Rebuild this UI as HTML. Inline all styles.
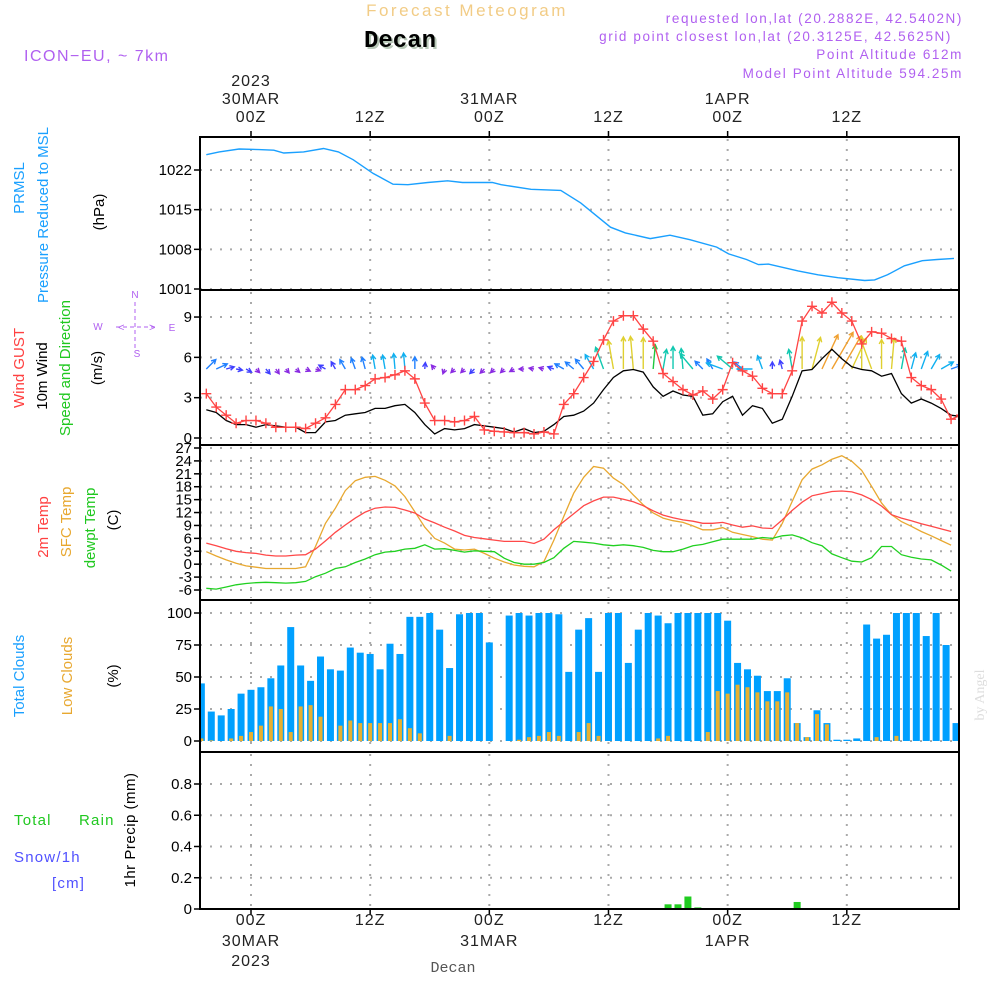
<!DOCTYPE html>
<html><head><meta charset="utf-8"><title>Forecast Meteogram - Decan</title>
<style>
html,body{margin:0;padding:0;background:#fff;}
svg{display:block;font-family:"Liberation Sans",sans-serif;}
.tk{font-size:15px;fill:#000;}
.ax{font-size:16px;fill:#222;letter-spacing:1px;}
</style></head>
<body>
<svg id="chart" width="1000" height="1000" viewBox="0 0 1000 1000" xmlns="http://www.w3.org/2000/svg">
<text x="467" y="16" text-anchor="middle" font-size="17" fill="#f2cc86" letter-spacing="2.5">Forecast Meteogram</text>
<text x="402" y="49" text-anchor="middle" font-size="24" font-weight="bold" font-family="Liberation Mono, monospace" fill="#b8c8b8">Decan</text>
<text x="400" y="47" text-anchor="middle" font-size="24" font-weight="bold" font-family="Liberation Mono, monospace" fill="#000">Decan</text>
<text x="24" y="61" font-size="16" fill="#b060f0" letter-spacing="1.5">ICON−EU, ~ 7km</text>
<g font-size="13.5" fill="#b060f0" text-anchor="end" letter-spacing="1.6">
<text x="963" y="23">requested lon,lat (20.2882E, 42.5402N)</text>
<text x="952" y="41">grid point closest lon,lat (20.3125E, 42.5625N)</text>
<text x="963" y="59">Point Altitude 612m</text>
<text x="963" y="78">Model Point Altitude 594.25m</text>
</g>
<g id="topaxis" class="ax" text-anchor="middle"></g>
<g id="botaxis" class="ax" text-anchor="middle"></g>
<text x="453" y="972" text-anchor="middle" font-size="15" font-family="Liberation Mono, monospace" fill="#555">Decan</text>
<text transform="translate(984,695) rotate(-90)" text-anchor="middle" font-size="14" font-family="Liberation Serif, serif" fill="#ddd">by Angel</text>

<g font-size="15">
<text transform="translate(24,188) rotate(-90)" text-anchor="middle" fill="#1aa0ff">PRMSL</text>
<text transform="translate(48,215) rotate(-90)" text-anchor="middle" fill="#1aa0ff">Pressure Reduced to MSL</text>
<text transform="translate(104,212) rotate(-90)" text-anchor="middle" fill="#000">(hPa)</text>
</g>
<g font-size="15">
<text transform="translate(24,368) rotate(-90)" text-anchor="middle" fill="#ff4040">Wind GUST</text>
<text transform="translate(47,376) rotate(-90)" text-anchor="middle" fill="#000">10m Wind</text>
<text transform="translate(70,368) rotate(-90)" text-anchor="middle" fill="#20c820">Speed and Direction</text>
<text transform="translate(102,368) rotate(-90)" text-anchor="middle" fill="#000">(m/s)</text>
</g>
<g fill="#b060f0" stroke="#b060f0" font-size="10">
<text x="135" y="298" text-anchor="middle" stroke="none">N</text>
<text x="98" y="330" text-anchor="middle" stroke="none">W</text>
<text x="172" y="331" text-anchor="middle" stroke="none">E</text>
<text x="137" y="357" text-anchor="middle" stroke="none">S</text>
<line x1="116" y1="327" x2="155" y2="327" stroke-dasharray="4 3"/>
<line x1="135" y1="302" x2="135" y2="350" stroke-dasharray="4 3"/>
<text x="118" y="331" stroke="none" font-size="11">&lt;</text>
<text x="149" y="331" stroke="none" font-size="11">&gt;</text>
</g>
<g font-size="15">
<text transform="translate(48,527) rotate(-90)" text-anchor="middle" fill="#ff4040">2m Temp</text>
<text transform="translate(71,522) rotate(-90)" text-anchor="middle" fill="#e8a830">SFC Temp</text>
<text transform="translate(95,528) rotate(-90)" text-anchor="middle" fill="#20c820">dewpt Temp</text>
<text transform="translate(118,520) rotate(-90)" text-anchor="middle" fill="#000">(C)</text>
</g>
<g font-size="15">
<text transform="translate(24,676) rotate(-90)" text-anchor="middle" fill="#1aa0ff">Total Clouds</text>
<text transform="translate(72,676) rotate(-90)" text-anchor="middle" fill="#e8a830">Low Clouds</text>
<text transform="translate(118,676) rotate(-90)" text-anchor="middle" fill="#000">(%)</text>
</g>
<g font-size="15" letter-spacing="1.2">
<text x="14" y="825" fill="#20c820">Total</text>
<text x="79" y="825" fill="#20c820">Rain</text>
<text x="14" y="862" fill="#5050ff">Snow/1h</text>
<text x="52" y="888" fill="#5050ff">[cm]</text>
<text transform="translate(135,830) rotate(-90)" text-anchor="middle" fill="#000" letter-spacing="0.5">1hr Precip (mm)</text>
</g>

<g id="plots"></g>
</svg>
<script>
const pressHours = [-4.5,-3.2,-1.2,0.8,2.3,3.3,5.3,7.3,8.8,10.3,12.3,14.3,15.8,17.8,19.8,21.3,24.3,25.2,28.2,31.2,33.2,36.2,37.7,40.2,42.2,44.2,46.9,48.1,49.9,51.1,52.1,55.1,57.1,59.1,61.8,62.8,64.1,65.8,67.6,69.1,70.8];
const pressValues = [1024.7,1025.2,1025.7,1025.6,1025.5,1025.0,1025.2,1025.8,1025.2,1023.8,1021.4,1019.5,1019.4,1019.8,1020.1,1019.8,1019.8,1019.4,1018.6,1018.4,1016.2,1011.9,1010.9,1009.9,1010.5,1009.7,1008.4,1007.2,1006.2,1005.3,1005.4,1004.2,1003.5,1003.0,1002.5,1002.6,1003.5,1005.1,1006.0,1006.2,1006.4];
const pressTicks = [1022,1015,1008,1001];

const lineStart = -4.5;
const gustValues = [3.3,2.3,1.7,1.1,1.3,1.3,1.1,0.8,0.8,0.8,0.7,1.1,1.5,2.5,3.6,3.6,3.9,4.4,4.5,4.7,5.0,4.4,2.6,1.3,1.3,1.2,1.3,1.6,0.6,0.5,0.45,0.4,0.4,0.3,0.45,0.3,2.5,3.3,4.5,5.7,7.3,8.7,9.1,9.1,8.1,7.2,4.8,4.2,3.6,3.2,3.5,2.9,3.6,5.6,5.0,4.6,3.7,3.3,3.3,5.0,8.7,9.8,9.3,10.1,9.3,8.7,7.0,7.9,7.8,7.4,7.2,4.5,3.9,3.6,2.9,1.4,1.7];
const windValues = [2.1,1.9,1.3,1.0,1.0,0.8,1.0,0.9,0.8,0.8,0.4,0.4,1.2,1.3,1.7,1.8,1.9,2.2,2.2,2.4,2.5,1.9,1.0,0.3,0.7,0.6,0.7,1.0,0.9,0.8,0.7,0.45,0.7,0.4,0.5,1.0,1.6,1.7,2.0,2.6,3.6,4.5,5.0,5.1,4.9,3.8,3.1,3.5,3.2,3.1,1.7,1.8,2.7,3.1,1.7,2.4,2.2,1.1,1.4,3.1,5.0,5.1,5.9,6.6,5.9,5.3,5.1,5.0,4.6,4.8,3.3,2.6,2.9,2.6,2.2,1.7,1.6];
const windDirs = [45,65,75,100,120,135,140,145,140,130,115,110,300,330,330,340,345,350,350,355,355,0,5,320,200,225,225,225,225,225,225,240,270,280,285,290,300,310,320,330,340,350,0,355,0,5,10,0,355,320,315,330,290,310,310,270,340,0,345,350,0,15,25,30,30,25,0,340,0,5,10,15,20,30,60,70,75];
const windTicks = [0,3,6,9];

const t2mValues = [4.9,4.3,3.6,3.0,2.7,2.5,2.1,1.9,1.9,2.1,2.2,3.5,5.4,7.4,9.1,10.7,12.1,13.0,13.3,13.2,12.6,11.9,10.5,9.6,8.6,7.7,6.7,6.2,5.9,5.6,5.3,5.3,5.3,4.8,5.8,8.0,9.9,11.7,13.6,14.7,15.6,15.6,15.1,14.5,13.6,12.4,11.4,10.8,10.3,10.0,9.5,9.5,9.7,9.1,8.6,8.9,8.4,8.3,10.3,12.5,14.4,15.9,16.4,16.9,17.0,16.8,16.1,15.0,13.5,11.5,10.7,10.1,9.4,8.8,8.2,7.6];
const sfcValues = [2.9,1.9,1.0,0.2,-0.4,-0.7,-1.0,-1.0,-1.0,-1.0,-0.6,4.1,9.5,13.0,17.1,19.4,20.2,20.4,19.5,18.2,15.7,12.2,8.6,6.0,4.9,3.5,3.3,3.5,2.5,1.4,0.5,-0.2,-0.5,-0.6,0.6,5.6,11.1,16.5,20.2,22.7,22.3,20.0,18.5,16.1,13.8,11.9,10.7,10.1,9.7,8.9,8.0,8.0,8.5,7.4,6.9,6.4,5.8,5.6,9.5,14.6,19.6,22.1,23.1,24.4,25.2,23.9,21.8,18.1,14.2,11.5,9.9,8.8,7.6,6.6,5.5,4.4];
const dewValues = [-5.6,-5.8,-5.3,-4.8,-4.5,-4.3,-4.2,-4.3,-4.4,-4.3,-4.0,-2.9,-2.1,-1.0,-0.6,0.4,1.2,2.2,2.8,3.0,3.5,3.7,4.5,3.5,3.6,3.2,2.8,3.1,3.0,2.9,1.4,0.4,0.0,0.0,0.4,1.5,3.7,5.3,5.1,4.9,4.5,4.3,4.5,4.3,3.9,3.2,2.9,2.9,3.5,4.3,4.6,5.2,5.8,5.8,5.8,5.8,6.2,6.0,6.6,6.8,6.1,5.0,4.3,2.4,1.5,0.7,0.5,1.5,4.1,4.1,2.2,1.6,1.2,1.0,-0.2,-1.6];
const tempTicks = [27,24,21,18,15,12,9,6,3,0,-3,-6];

const barStart = -5;
const totalCloud = [45,23,20,25,37,40,42,49,59,89,59,47,66,56,55,73,69,68,56,76,68,97,97,100,87,57,99,100,100,77,0,98,100,98,100,100,99,54,87,96,54,100,100,61,87,100,98,92,100,100,100,100,100,94,61,56,51,39,39,49,14,3,24,14,1,1,2,91,80,83,100,100,100,82,100,75,14];
const lowCloud = [2,0.5,0,2,4,7,12,27,25,7,27,28,19,0,12,16,14,14,14,14,17,10,6,0,0,4,0,0,0,0,0,0,1,3,4,7,4,0,7,14,4,0,0,0,0,0,2,4,0,0,0,7,39,37,44,42,38,31,31,38,14,3,21,13,0,0,0,0,3,0,4,0,0,0,0,0,0];
const cloudTicks = [0,25,50,75,100];

const precipHours = [42,43,44,45,55,56];
const precipValues = [0.03,0.03,0.08,0.01,0.045,0.004];
const precipTicks = [0,0.2,0.4,0.6,0.8];

const gridHours = [0,12,24,36,48,60];
const topLabels = [["2023","30MAR","00Z"],["","","12Z"],["","31MAR","00Z"],["","","12Z"],["","1APR","00Z"],["","","12Z"]];
const botLabels = [["00Z","30MAR","2023"],["12Z","",""],["00Z","31MAR",""],["12Z","",""],["00Z","1APR",""],["12Z","",""]];

const X0 = 200, X1 = 959;
const xs = t => 251 + t * 9.93;
const yP = v => 170 + (1022 - v) * 5.667;
const yW = v => 438 - v * 13.44;
const yT = v => 590 - (v + 6) * 4.303;
const yC = v => 741 - v * 1.28;
const yR = v => 909 - v * 156.25;
const panels = [
  {top:137, bot:290, ticks:pressTicks, y:yP, fmt:v=>String(v)},
  {top:290, bot:445, ticks:windTicks, y:yW, fmt:v=>String(v)},
  {top:445, bot:600, ticks:tempTicks, y:yT, fmt:v=>String(v)},
  {top:600, bot:752, ticks:cloudTicks, y:yC, fmt:v=>String(v)},
  {top:752, bot:909, ticks:precipTicks, y:yR, fmt:v=>v===0?"0":v.toFixed(1)}
];
const NS = "http://www.w3.org/2000/svg";
const root = document.getElementById("plots");
function mk(tag, attrs, parent) {
  const e = document.createElementNS(NS, tag);
  for (const k in attrs) e.setAttribute(k, attrs[k]);
  (parent || root).appendChild(e);
  return e;
}
function pathFrom(times, vals, ys) {
  return vals.map((v, i) => (i ? "L" : "M") + xs(times(i)).toFixed(1) + "," + ys(v).toFixed(1)).join("");
}

const defs = mk("defs", {});
const cp = mk("clipPath", {id:"clip"}, defs);
mk("rect", {x:X0, y:130, width:X1 - X0, height:790}, cp);

panels.forEach((p, pi) => {
  const g = mk("g", {});
  
  
  p.ticks.forEach(v => {
    const yy = p.y(v);
    const gl = mk("line", {x1:X0, x2:X1, y1:yy, y2:yy, stroke:"#aaa", "stroke-width":2, "stroke-dasharray":"2 8"}, g);
    
    
    const tm = mk("line", {x1:X0 - 6, x2:X0, y1:yy, y2:yy, stroke:"#000", "stroke-width":1.5}, g);
    
    
    const tl = mk("text", {x:192, y:yy + 5, "text-anchor":"end", class:"tk", "font-size": pi === 2 ? 14 : 15}, g);
    tl.textContent = p.fmt(v);
    
    
  });
  gridHours.forEach(h => {
    const xx = xs(h);
    const vl = mk("line", {x1:xx, x2:xx, y1:p.top + 2, y2:p.bot - 2, stroke:"#aaa", "stroke-width":2, "stroke-dasharray":"2 8"}, g);
    
    
  });
});

const pp = mk("path", {d:pathFrom(i => pressHours[i], pressValues, yP), fill:"none", stroke:"#1aa0ff", "stroke-width":1.4, "clip-path":"url(#clip)"});



function arrowColor(s) {
  if (s < 1.0) return "#8a2be2";
  if (s < 1.5) return "#4040ff";
  if (s < 2.2) return "#2080ff";
  if (s < 3.0) return "#10b0f0";
  if (s < 3.8) return "#10c8b0";
  if (s < 4.5) return "#20c840";
  if (s < 5.4) return "#e0d030";
  return "#f0a030";
}
const ag = mk("g", {"clip-path":"url(#clip)"});


windDirs.forEach((d, i) => {
  const s = windValues[i];
  const L = Math.max(5, s * 6.4);
  const a = d * Math.PI / 180;
  const bx = xs(lineStart + i), by = 369;
  const tx = bx + Math.sin(a) * L, ty = by - Math.cos(a) * L;
  const c = arrowColor(s);
  const h = 5, ang = Math.atan2(ty - by, tx - bx);
  const d1 = `M${bx},${by}L${tx},${ty}M${tx - h * Math.cos(ang - 0.5)},${ty - h * Math.sin(ang - 0.5)}L${tx},${ty}L${tx - h * Math.cos(ang + 0.5)},${ty - h * Math.sin(ang + 0.5)}`;
  const ar = mk("path", {d:d1, stroke:c, "stroke-width":1.4, fill:"none"}, ag);
  
  
});

const wl = mk("path", {d:pathFrom(i => lineStart + i, windValues, yW), fill:"none", stroke:"#000", "stroke-width":1.3, "clip-path":"url(#clip)"});


const gustLine = mk("path", {d:pathFrom(i => lineStart + i, gustValues, yW), fill:"none", stroke:"#ff4444", "stroke-width":1.3, "clip-path":"url(#clip)"});


const gm = mk("g", {stroke:"#ff4444", "stroke-width":1.4, "clip-path":"url(#clip)"});


gustValues.forEach((v, i) => {
  const cx = xs(lineStart + i), cy = yW(v);
  const m = mk("path", {d:`M${cx - 5},${cy}L${cx + 5},${cy}M${cx},${cy - 5}L${cx},${cy + 5}`}, gm);
  
  
});

const sl = mk("path", {d:pathFrom(i => lineStart + i, sfcValues, yT), fill:"none", stroke:"#e8a830", "stroke-width":1.3, "clip-path":"url(#clip)"});


const tl2 = mk("path", {d:pathFrom(i => lineStart + i, t2mValues, yT), fill:"none", stroke:"#ff4848", "stroke-width":1.3, "clip-path":"url(#clip)"});


const dl = mk("path", {d:pathFrom(i => lineStart + i, dewValues, yT), fill:"none", stroke:"#20d020", "stroke-width":1.3, "clip-path":"url(#clip)"});



const cg = mk("g", {"clip-path":"url(#clip)"});


totalCloud.forEach((v, i) => {
  const cx = xs(barStart + i);
  const b = mk("rect", {x:cx - 3.5, y:yC(v), width:7, height:yC(0) - yC(v), fill:"#00a0ff"}, cg);
  
  
  const lv = lowCloud[i];
  const lb = mk("rect", {x:cx - 2, y:yC(lv), width:4, height:yC(0) - yC(lv), fill:"#e8b030"}, cg);
  
  
});

precipValues.forEach((v, i) => {
  const cx = xs(precipHours[i]);
  const b = mk("rect", {x:cx - 3.5, y:yR(v), width:7, height:yR(0) - yR(v), fill:"#20cc20"});
  
  
});

for (let h = -5; h <= 71; h++) {
  const xx = xs(h);
  const t = mk("line", {x1:xx - 2, x2:xx + 2, y1:909, y2:909, stroke:"#fff", "stroke-width":2});
  
  
}

panels.forEach(p => {
  const r = mk("rect", {x:X0, y:p.top, width:X1 - X0, height:p.bot - p.top, fill:"none", stroke:"#000", "stroke-width":2});
  
  
});

const topG = document.getElementById("topaxis");
const botG = document.getElementById("botaxis");
gridHours.forEach((h, k) => {
  const xx = xs(h);
  const tk = mk("line", {x1:xx, x2:xx, y1:131, y2:137, stroke:"#000", "stroke-width":1.5}, topG);
  
  
  [86, 104, 122].forEach((yy, j) => {
    if (!topLabels[k][j]) return;
    const t = mk("text", {x:xx, y:yy}, topG);
    t.textContent = topLabels[k][j];
    
    
  });
  const bk = mk("line", {x1:xx, x2:xx, y1:909, y2:915, stroke:"#000", "stroke-width":1.5}, botG);
  
  
  [925, 946, 966].forEach((yy, j) => {
    if (!botLabels[k][j]) return;
    const t = mk("text", {x:xx, y:yy}, botG);
    t.textContent = botLabels[k][j];
    
    
  });
});
</script>
</body></html>
